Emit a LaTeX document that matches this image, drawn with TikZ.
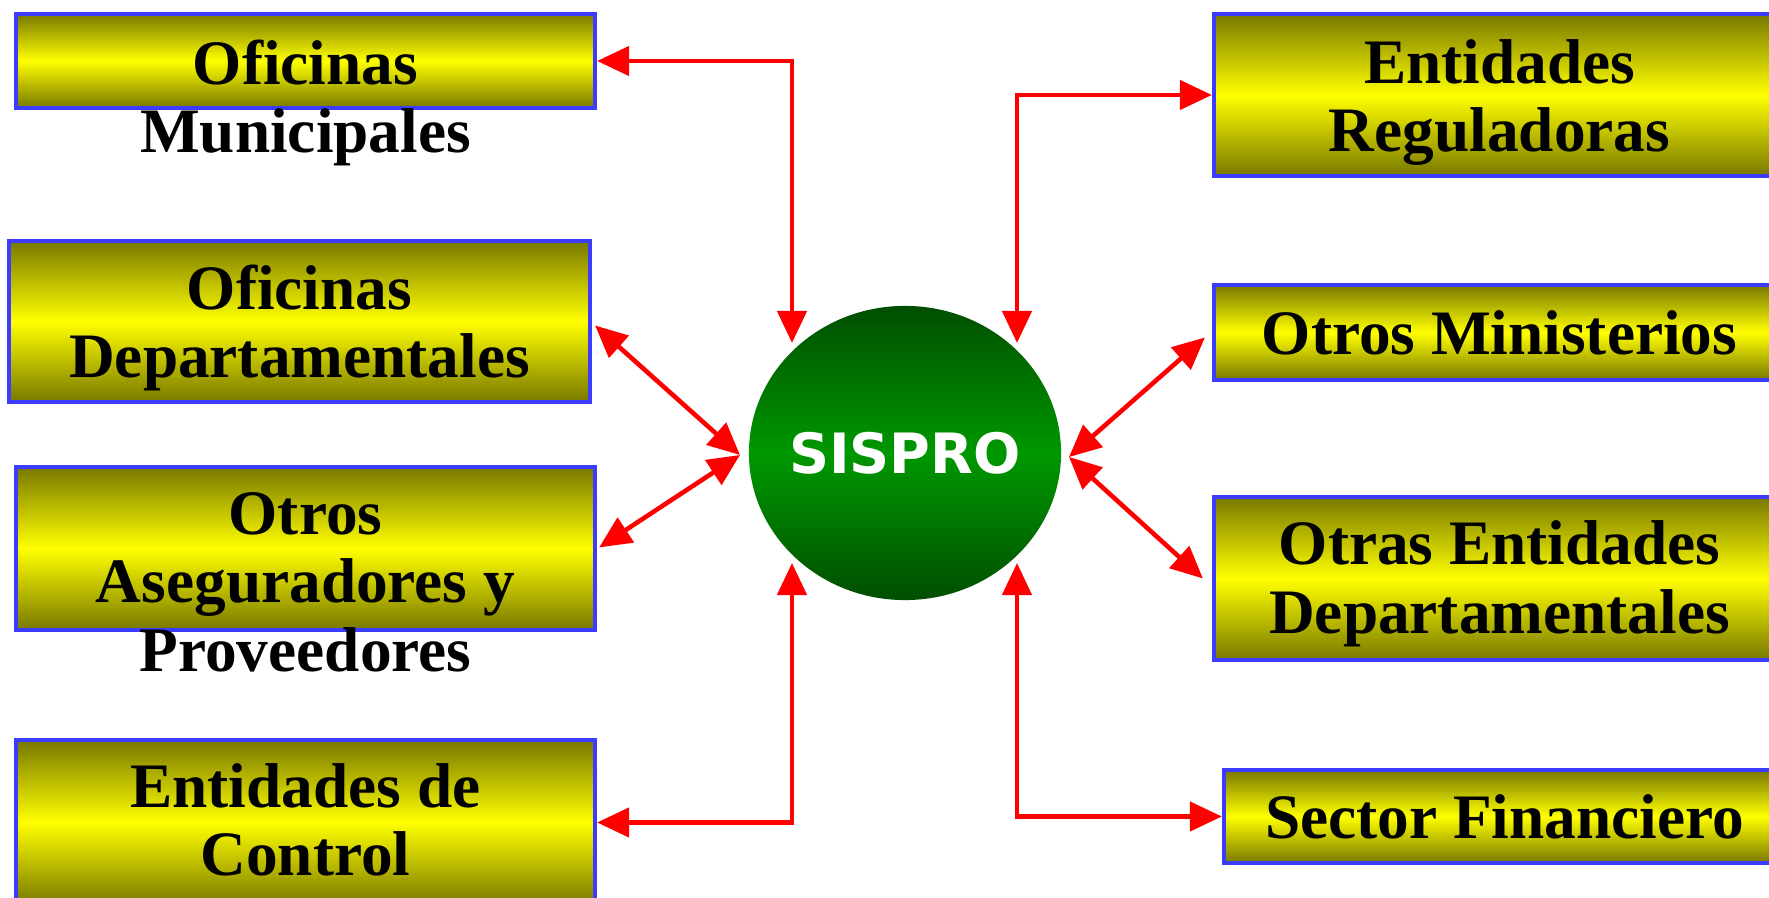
\documentclass[tikz,border=0pt]{standalone}
\usepackage{fontspec}
\setmainfont{Liberation Serif}
\newfontfamily\sisfont{DejaVu Sans}
\usetikzlibrary{arrows.meta,shapes.geometric,calc}

\definecolor{boxolive}{RGB}{120,120,0}
\definecolor{boxyellow}{RGB}{255,255,0}
\definecolor{boxblue}{RGB}{60,60,255}
\definecolor{sisdark}{RGB}{0,78,0}
\definecolor{sismid}{RGB}{0,152,0}

\begin{document}
\begin{tikzpicture}[x=0.01cm, y=-0.01cm,
    entbox/.style={draw=boxblue, line width=1.1pt, rectangle, inner sep=0pt,
        top color=boxolive, bottom color=boxolive, middle color=boxyellow},
    enttext/.style={align=center, inner sep=0pt,
        font=\fontsize{18}{19.5}\selectfont\bfseries},
    link/.style={draw=red, line width=1.3pt,
        {Triangle[length=0.32cm,width=0.29cm]}-{Triangle[length=0.32cm,width=0.29cm]}},
    ]
    \useasboundingbox (0,0) rectangle (1769,898);
    \clip (0,0) rectangle (1769,898);

    \node[entbox, minimum width=5.79cm, minimum height=0.94cm]
        (munic) at (305.5,61) {};
    \node[enttext] (munic-t) at (305.5,103) {Oficinas\\Municipales};

    \node[entbox, minimum width=5.81cm, minimum height=1.61cm]
        (depto) at (299.5,321.5) {};
    \node[enttext] (depto-t) at (299.5,328) {Oficinas\\Departamentales};

    \node[entbox, minimum width=5.79cm, minimum height=1.63cm]
        (asegur) at (305.5,548.5) {};
    \node[enttext] (asegur-t) at (305.5,582) {Otros\\Aseguradores y\\Proveedores};

    \node[entbox, minimum width=5.79cm, minimum height=1.65cm]
        (control) at (305.5,822.5) {};
    \node[enttext] (control-t) at (305.5,820) {Entidades de\\Control};

    \node[entbox, minimum width=5.71cm, minimum height=1.62cm]
        (regul) at (1499.5,95) {};
    \node[enttext] (regul-t) at (1499.5,102.5) {Entidades\\Reguladoras};

    \node[entbox, minimum width=5.71cm, minimum height=0.95cm]
        (minist) at (1499.5,332.5) {};
    \node[enttext] (minist-t) at (1499.5,332.5) {Otros Ministerios};

    \node[entbox, minimum width=5.71cm, minimum height=1.63cm]
        (otrasdep) at (1499.5,578.5) {};
    \node[enttext] (otrasdep-t) at (1499.5,584) {Otras Entidades\\Departamentales};

    \node[entbox, minimum width=5.61cm, minimum height=0.93cm]
        (financ) at (1504.5,816.5) {};
    \node[enttext] (financ-t) at (1504.5,816.5) {Sector Financiero};

    \node[ellipse, minimum width=3.12cm, minimum height=2.94cm, inner sep=0pt,
          top color=sisdark, bottom color=sisdark, middle color=sismid]
        (sispro) at (905,453) {};
    \node[text=white, inner sep=0pt,
          font=\sisfont\bfseries\fontsize{15.8}{18}\selectfont]
        (sispro-t) at (sispro) {SISPRO};

    \coordinate (nw) at ($(sispro)+(-113,-110)$);
    \coordinate (ne) at ($(sispro)+(112,-110)$);
    \coordinate (sw) at ($(sispro)+(-113,110)$);
    \coordinate (se) at ($(sispro)+(112,110)$);
    \coordinate (w) at ($(sispro)+(-165,2)$);
    \coordinate (e) at ($(sispro)+(164,4)$);

    \path[link] (munic.east) -| (nw);
    \path[link] (ne) |- (regul.west);
    \path[link] ($(depto.east)+(3,4)$) -- (w);
    \path[link] ($(asegur.east)+(2,-1)$) -- (w);
    \path[link] ($(minist.west)+(-7,5)$) -- (e);
    \path[link] ($(otrasdep.west)+(-9,0)$) -- (e);
    \path[link] (control.east) -| (sw);
    \path[link] (se) |- (financ.west);
\end{tikzpicture}
\end{document}
